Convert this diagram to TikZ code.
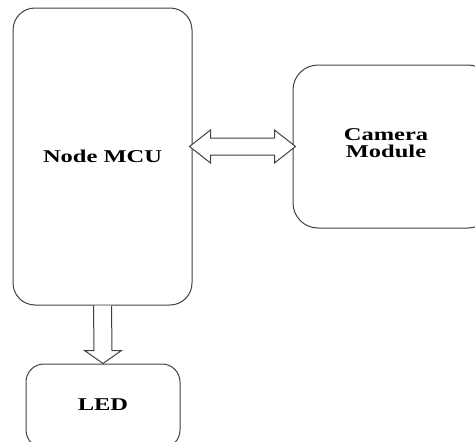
\documentclass[tikz,border=0pt]{standalone}
\usepackage{fontspec}
\setmainfont{Liberation Serif}
\usetikzlibrary{calc}
\tikzset{
  blk/.style={draw=black!75, line width=1pt, rounded corners=22pt, inner sep=0pt,
    font=\fontsize{18}{15.5}\selectfont\bfseries, text=black},
  lbl/.style={inner sep=0pt, font=\fontsize{18}{15.5}\selectfont\bfseries, text=black},
  fat/.style={draw=black!75, line width=1pt, fill=white, line join=miter}
}
\newcommand{\wide}[1]{\scalebox{1.36}[1]{#1}}
\begin{document}
\begin{tikzpicture}[x=1pt,y=-1pt]
\useasboundingbox (0,0) rectangle (475,442);
\node[blk, minimum width=179pt, minimum height=297pt] (mcu) at (102.5,156.5) {\wide{Node MCU}};
\node[blk, minimum width=200pt, minimum height=163pt, rounded corners=25pt] (cam) at (393,146.5) {};
\node[lbl] (camtxt) at (386,145) {\wide{\begin{tabular}{@{}c@{}}Camera\\Module\end{tabular}}};
\node[blk, minimum width=154pt, minimum height=84pt, rounded corners=18pt] (led) at (103,406) {};
\node[lbl] (ledtxt) at (103,405) {\wide{LED}};
% double arrow between mcu and camera
\coordinate (L) at ($(mcu.east |- cam.west)+(-3,0)$);
\coordinate (R) at ($(cam.west)+(3,0)$);
\draw[fat] (L) -- ($(L)+(21,-16.5)$) -- ($(L)+(21,-8.5)$) -- ($(R)+(-21,-8.5)$) -- ($(R)+(-21,-16.5)$)
  -- (R) -- ($(R)+(-21,16.5)$) -- ($(R)+(-21,8.5)$) -- ($(L)+(21,8.5)$) -- ($(L)+(21,16.5)$) -- cycle;
% down arrow mcu -> led
\coordinate (T) at (mcu.south);
\coordinate (B) at (led.north);
\draw[fat] ($(T)+(-9,0)$) -- ($(B)+(-9,-13)$) -- ($(B)+(-18.5,-13)$) -- (B) -- ($(B)+(18.5,-13)$)
  -- ($(B)+(9,-13)$) -- ($(T)+(9,0)$);
\end{tikzpicture}
\end{document}
